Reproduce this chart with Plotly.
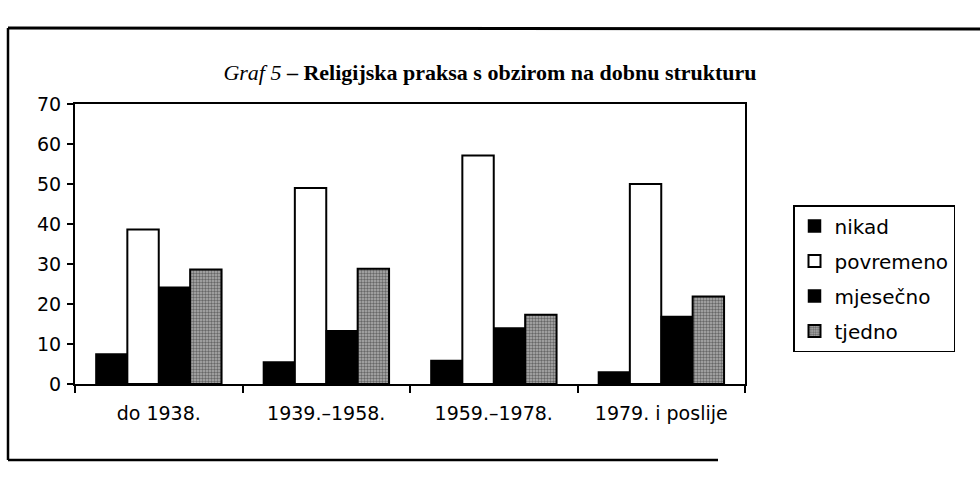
import plotly.graph_objects as go

categories = ["do 1938.", "1939.–1958.", "1959.–1978.", "1979. i poslije"]
nikad = [7.5, 5.5, 5.9, 3.0]
povremeno = [38.6, 49.0, 57.1, 50.0]
mjesecno = [24.2, 13.3, 14.0, 16.9]
tjedno = [28.6, 28.8, 17.3, 21.9]
series_names = ["nikad", "povremeno", "mjesečno", "tjedno"]
y_ticks = [0, 10, 20, 30, 40, 50, 60, 70]

W, H = 980, 486
L, R, T, B = 75, 235, 104, 102
PW, PH = W - L - R, H - T - B

def xp(px):
    return (px - L) / PW

def yp(py):
    return (H - B - py) / PH

fig = go.Figure()
styles = [
    dict(color="black", line=dict(color="black", width=1.5)),
    dict(color="white", line=dict(color="black", width=2)),
    dict(color="black", line=dict(color="black", width=1.5)),
    dict(color="#8a8a8a", line=dict(color="black", width=2),
         pattern=dict(shape=".", fgcolor="#1e1e1e", bgcolor="#b0b0b0",
                      size=3, solidity=0.5)),
]
for name, vals, st in zip(series_names, [nikad, povremeno, mjesecno, tjedno], styles):
    fig.add_trace(go.Bar(x=categories, y=vals, name=name, marker=st,
                         legendgroup=name))

font_sans = "DejaVu Sans"
fig.update_layout(
    width=W, height=H,
    margin=dict(l=L, r=R, t=T, b=B, pad=0),
    paper_bgcolor="white", plot_bgcolor="white",
    barmode="group", bargap=0.25, bargroupgap=0,
    title=dict(
        text="<i>Graf 5</i><b> – Religijska praksa s obzirom na dobnu strukturu</b>",
        font=dict(family="Liberation Serif", size=22, color="black"),
        x=0.5, xref="container", xanchor="center",
        y=1 - 72 / H, yref="container", yanchor="middle",
    ),
    font=dict(family=font_sans, size=19, color="black"),
    legend=dict(
        x=xp(793), y=yp(205), xanchor="left", yanchor="top",
        bordercolor="black", borderwidth=1.5, bgcolor="white",
        font=dict(family=font_sans, size=20, color="black"),
        tracegroupgap=6, traceorder="grouped",
    ),
    xaxis=dict(
        showline=True, linecolor="black", linewidth=2, mirror=True,
        ticks="outside", tickson="boundaries", ticklen=7, tickwidth=2,
        tickcolor="black", showgrid=False, ticklabelstandoff=11,
        tickfont=dict(family=font_sans, size=19, color="black"),
    ),
    yaxis=dict(
        range=[0, 70], tickvals=y_ticks,
        showline=True, linecolor="black", linewidth=2, mirror=True,
        ticks="outside", ticklen=6, tickwidth=2, tickcolor="black",
        showgrid=False, zeroline=False, ticklabelstandoff=2,
        tickfont=dict(family=font_sans, size=19, color="black"),
    ),
    shapes=[
        dict(type="line", xref="paper", yref="paper",
             x0=xp(8), x1=xp(980), y0=yp(28), y1=yp(29),
             line=dict(color="black", width=3)),
        dict(type="line", xref="paper", yref="paper",
             x0=xp(8), x1=xp(8), y0=yp(28), y1=yp(460),
             line=dict(color="black", width=2.5)),
        dict(type="line", xref="paper", yref="paper",
             x0=xp(8), x1=xp(718), y0=yp(460), y1=yp(460),
             line=dict(color="black", width=2.5)),
    ],
)

fig.write_html(
    "out.html",
    config={"displayModeBar": False},
    post_script="document.body.style.margin='0px';document.body.style.overflow='hidden';",
)
